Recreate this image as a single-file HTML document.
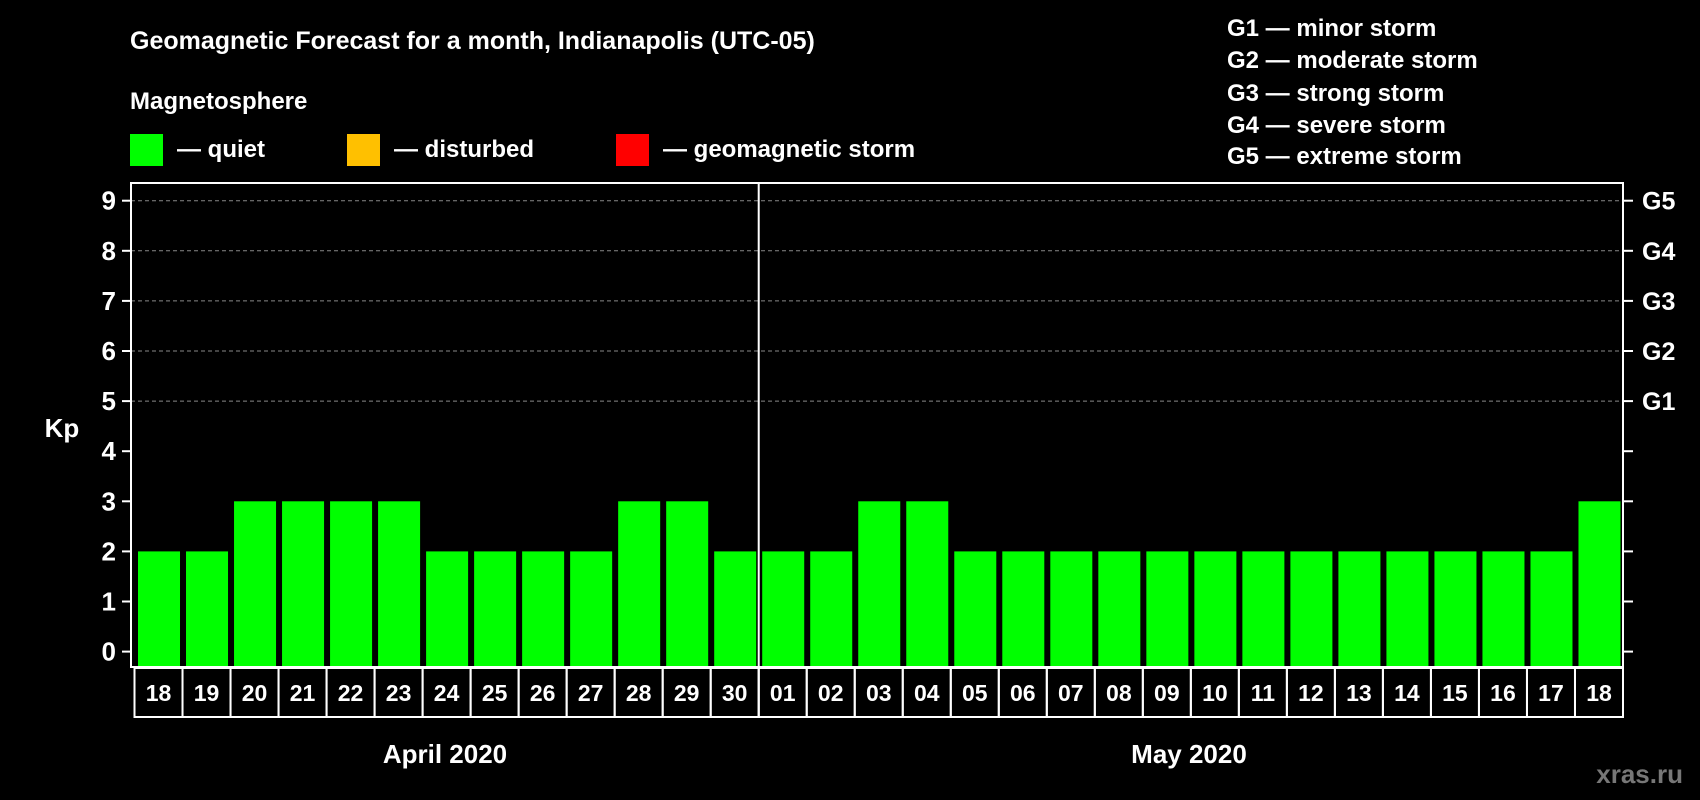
<!DOCTYPE html>
<html><head><meta charset="utf-8"><style>
html,body{margin:0;padding:0;background:#000;}
svg{display:block;font-family:"Liberation Sans",Arial,sans-serif;font-weight:bold;}
</style></head><body>
<svg id="chart" width="1700" height="800" viewBox="0 0 1700 800">
<rect width="1700" height="800" fill="#000"/>
<text x="130" y="49" fill="#fff" font-size="25">Geomagnetic Forecast for a month, Indianapolis (UTC-05)</text>
<text x="130" y="109" fill="#fff" font-size="24">Magnetosphere</text>
<g><rect x="130" y="134" width="33" height="32" fill="#00ff00"/><text x="177" y="157" fill="#fff" font-size="24">— quiet</text></g>
<g><rect x="347" y="134" width="33" height="32" fill="#ffc000"/><text x="394" y="157" fill="#fff" font-size="24">— disturbed</text></g>
<g><rect x="616" y="134" width="33" height="32" fill="#ff0000"/><text x="663" y="157" fill="#fff" font-size="24">— geomagnetic storm</text></g>
<g fill="#fff" font-size="24">
<text x="1227" y="36">G1 — minor storm</text>
<text x="1227" y="68">G2 — moderate storm</text>
<text x="1227" y="101">G3 — strong storm</text>
<text x="1227" y="133">G4 — severe storm</text>
<text x="1227" y="164">G5 — extreme storm</text>
</g>
<text x="62" y="437" fill="#fff" font-size="26" text-anchor="middle">Kp</text>
<text x="445" y="763" fill="#fff" font-size="26" text-anchor="middle">April 2020</text>
<text x="1189" y="763" fill="#fff" font-size="26" text-anchor="middle">May 2020</text>
<text x="1683" y="783" fill="#777" font-size="26" text-anchor="end">xras.ru</text>
<g id="plot"></g>
</svg>
<script>
const days = ["18","19","20","21","22","23","24","25","26","27","28","29","30","01","02","03","04","05","06","07","08","09","10","11","12","13","14","15","16","17","18"];
const kp = [2,2,3,3,3,3,2,2,2,2,3,3,2,2,2,3,3,2,2,2,2,2,2,2,2,2,2,2,2,2,3];
const yTicks = [0,1,2,3,4,5,6,7,8,9];
const gLabels = ["G1","G2","G3","G4","G5"];
const gLevels = [5,6,7,8,9];

const NS="http://www.w3.org/2000/svg";
const g=document.getElementById('plot');
const L=131,R=1623,T=183,B=667,boxL=134.5,boxB=717;
const pitch=(R-boxL)/days.length;
function y(v){return 651.6-50.1*v;}
function x(i){return boxL+i*pitch;}
function mk(tag,attrs){const e=document.createElementNS(NS,tag);for(const k in attrs)e.setAttribute(k,attrs[k]);g.appendChild(e);return e;}
function color(v){return v>=5?"#ff0000":(v>=4?"#ffc000":"#00ff00");}

gLevels.forEach((v,i)=>{
  const ln=mk('line',{x1:L,x2:R,y1:y(v),y2:y(v),stroke:'#888','stroke-width':1,'stroke-dasharray':'4,3'});
  
  
  const t=mk('text',{x:1642,y:y(v)+9,fill:'#fff','font-size':25});
  t.textContent=gLabels[i];
  
  
});
yTicks.forEach(v=>{
  const tk=mk('line',{x1:122,x2:L,y1:y(v),y2:y(v),stroke:'#fff','stroke-width':2});
  
  
  const tr=mk('line',{x1:R,x2:1633,y1:y(v),y2:y(v),stroke:'#fff','stroke-width':2});
  
  
  const t=mk('text',{x:116,y:y(v)+9,fill:'#fff','font-size':26,'text-anchor':'end'});
  t.textContent=v;
  
  
});
kp.forEach((v,i)=>{
  const r=mk('rect',{x:x(i)+3.5,y:y(v),width:pitch-6,height:B-y(v),fill:color(v)});
  
  
});
days.forEach((d,i)=>{
  const b=mk('rect',{x:x(i),y:B+1,width:pitch,height:boxB-B-1,fill:'none',stroke:'#fff','stroke-width':2});
  
  
  const t=mk('text',{x:x(i)+pitch/2,y:701,fill:'#fff','font-size':23,'text-anchor':'middle'});
  t.textContent=d;
  
  
});
const frame=mk('rect',{x:L,y:T,width:R-L,height:B-T,fill:'none',stroke:'#fff','stroke-width':2});


const div=mk('line',{x1:x(13),x2:x(13),y1:T,y2:boxB,stroke:'#fff','stroke-width':2});


</script>
</body></html>
